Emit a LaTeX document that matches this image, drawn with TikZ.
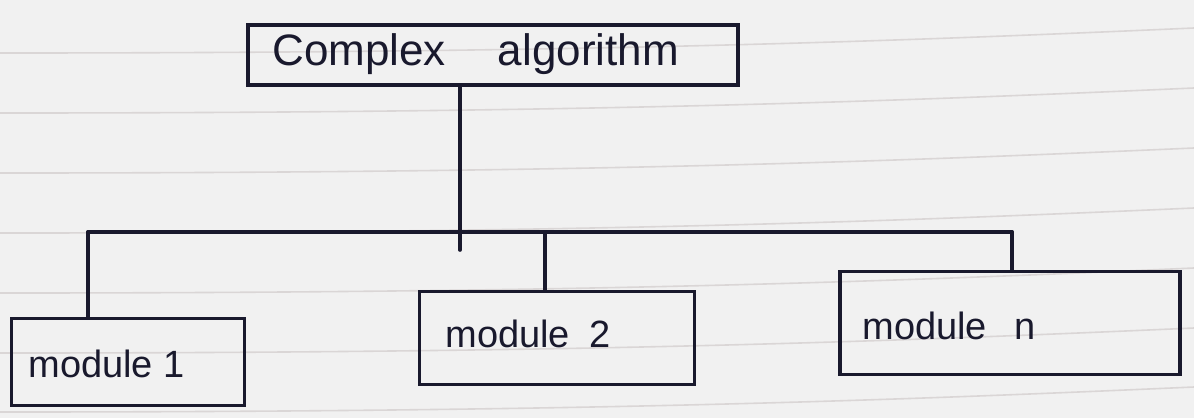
\documentclass[tikz,border=0pt]{standalone}
\usepackage{fontspec}
\setmainfont{Liberation Sans}
\definecolor{ink}{RGB}{25,25,45}
\definecolor{paper}{RGB}{241,241,241}
\definecolor{ruling}{RGB}{218,214,214}
\begin{document}
\begin{tikzpicture}[x=0.5pt,y=-0.5pt,
  pen/.style={line width=1.8pt, draw=ink, line cap=round},
  box/.style={pen, rectangle, inner sep=0pt},
  txt/.style={anchor=west, inner sep=0pt, text=ink},
  rule/.style={draw=ruling, line width=0.8pt}]
\fill[paper] (0,0) rectangle (1194,418);
\useasboundingbox (0,0) rectangle (1194,418);
\foreach \y in {-5,53,113,173,233,293,353,412}
  \draw[rule] (0,\y) .. controls (600,\y) and (900,\y-12) .. (1194,\y-25);
% top box
\node[box, minimum width=245pt, minimum height=30pt] (top) at (493,55) {};
\node[txt, font=\fontsize{22}{26}\selectfont] (toptxt) at (272,54) {Complex\hspace{26pt}algorithm};
% module boxes
\node[box, minimum width=116.5pt, minimum height=43.5pt] (m1) at (128,362) {};
\node[txt, font=\fontsize{19}{23}\selectfont] (t1) at (28,364) {module 1};
\node[box, minimum width=137.5pt, minimum height=46.5pt] (m2) at (557,338) {};
\node[txt, font=\fontsize{19}{23}\selectfont] (t2) at (445,334) {module\hspace{10pt}2};
\node[box, minimum width=170pt, minimum height=51.5pt] (m3) at (1010,323) {};
\node[txt, font=\fontsize{19}{23}\selectfont] (t3) at (862,326) {module\hspace{14pt}n};
% connectors
\coordinate (trunk) at (460,250);
\coordinate (b1) at (88,232);
\coordinate (b2) at (545,232);
\coordinate (b3) at (1012,232);
\draw[pen] (trunk |- top.south) -- (trunk);
\draw[pen] (b1) -- (b3);
\draw[pen] (b1) -- (b1 |- m1.north);
\draw[pen] (b2) -- (b2 |- m2.north);
\draw[pen] (b3) -- (b3 |- m3.north);
\end{tikzpicture}
\end{document}
